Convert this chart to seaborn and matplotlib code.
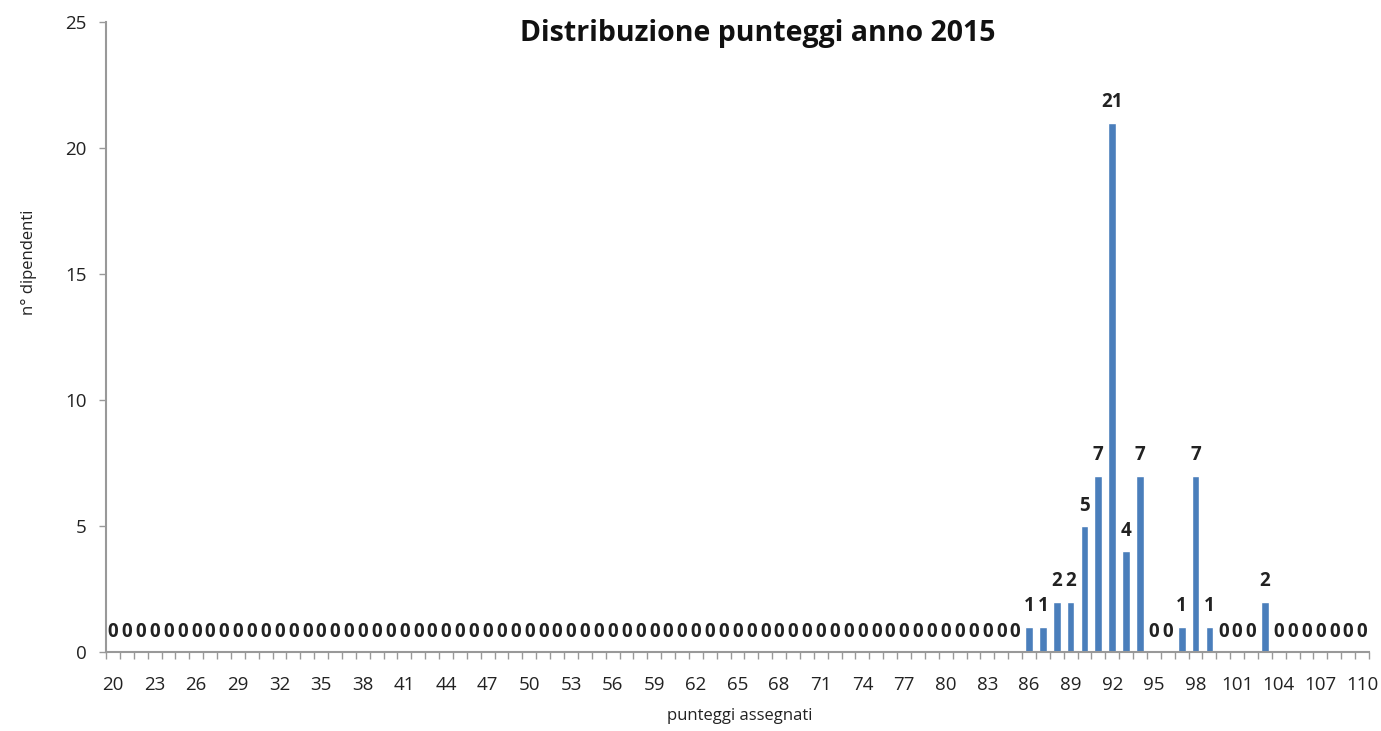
import matplotlib
matplotlib.use("Agg")
import matplotlib.pyplot as plt
import seaborn as sns
import numpy as np
import pandas as pd

# Data
scores = list(range(20, 111))
counts_nonzero = {86: 1, 87: 1, 88: 2, 89: 2, 90: 5, 91: 7, 92: 21, 93: 4,
                  94: 7, 97: 1, 98: 7, 99: 1, 103: 2}
counts = [counts_nonzero.get(s, 0) for s in scores]
tick_labels = [str(s) for s in scores[::3]]
title = "Distribuzione punteggi anno 2015"
xlabel = "punteggi assegnati"
ylabel = "n° dipendenti"

sns.set_style("white")
plt.rcParams['font.family'] = ['Open Sans', 'DejaVu Sans']

df = pd.DataFrame({"punteggio": [str(s) for s in scores], "n": counts})

fig = plt.figure(figsize=(13.81, 7.31), dpi=100)
ax = fig.add_axes([106/1381, 79/731, (1369-106)/1381, 630/731])

sns.barplot(data=df, x="punteggio", y="n", color="#4A7EBB", width=0.56,
            saturation=1, ax=ax, order=df["punteggio"])

for c in ax.containers:
    ax.bar_label(c, labels=[str(v) for v in counts], padding=7.5,
                 fontsize=13.5, fontweight="bold", color="#222222")

ax.set_xlim(-0.5, len(scores) - 0.5)
ax.set_ylim(0, 25)
ax.set_yticks([0, 5, 10, 15, 20, 25])
ax.set_xticks(np.arange(0, len(scores), 3))
ax.set_xticklabels(tick_labels)
ax.set_xticks(np.arange(-0.5, len(scores), 1), minor=True)
ax.tick_params(axis="x", which="major", length=0, pad=17, labelsize=13.5,
               labelcolor="#222222")
ax.tick_params(axis="x", which="minor", length=5, width=1, color="#999999",
               direction="out", bottom=True)
ax.tick_params(axis="y", which="major", length=5, width=1, color="#999999",
               direction="out", left=True, labelsize=13.5, labelcolor="#222222",
               pad=9)

for s in ["top", "right"]:
    ax.spines[s].set_visible(False)
for s in ["left", "bottom"]:
    ax.spines[s].set_color("#999999")
    ax.spines[s].set_linewidth(1.5)

ax.set_xlabel(xlabel, fontsize=12, color="#222222")
ax.xaxis.set_label_coords((740 - 106) / 1263, -(708 - 652) / 630)
ax.set_ylabel(ylabel, fontsize=12, color="#222222")
ax.yaxis.set_label_coords((37 - 106) / 1263, (652 - 262) / 630)

fig.text(758/1381, 1 - 33/731, title, ha="center", va="center",
         fontsize=20.5, fontweight="bold", color="#111111")

fig.savefig("out.png", dpi=100)
